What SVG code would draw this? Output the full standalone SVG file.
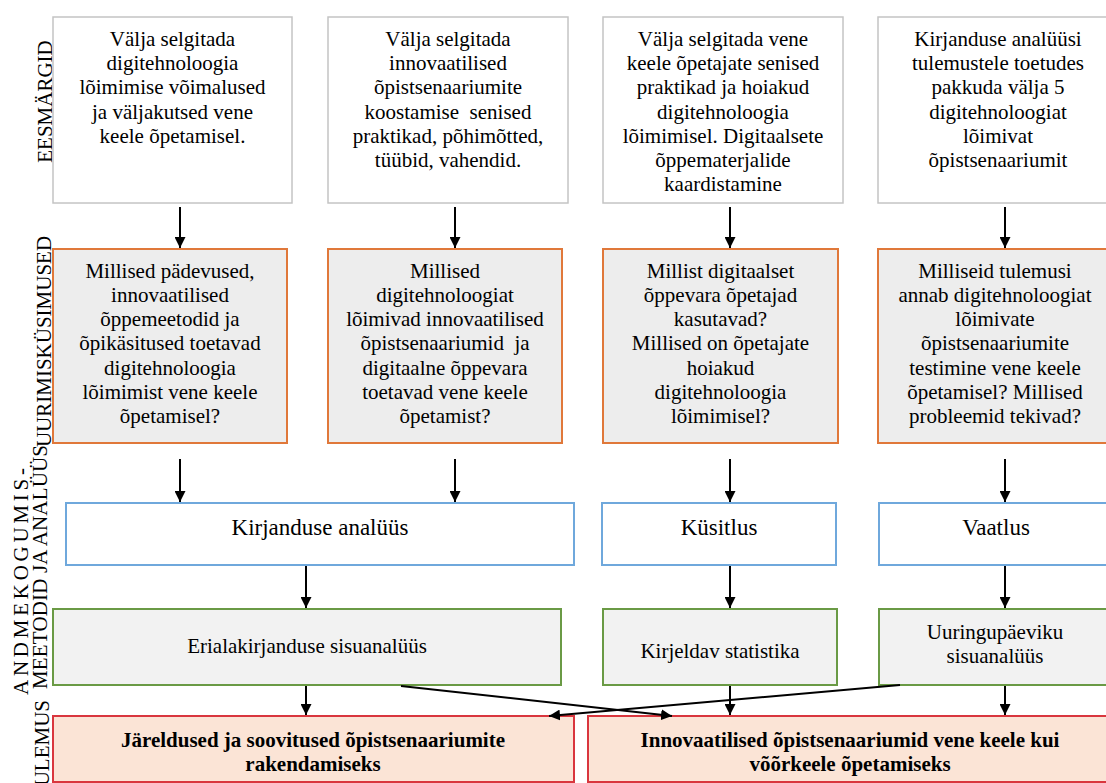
<svg xmlns="http://www.w3.org/2000/svg" width="1106" height="783" viewBox="0 0 1106 783">
<defs>
<marker id="ah" viewBox="0 0 10 10" refX="10" refY="5" markerWidth="5.5" markerHeight="5.5" orient="auto" markerUnits="strokeWidth">
<path d="M0,0 L10,5 L0,10 Z" fill="#000"/>
</marker>
<style>
text{font-family:"Liberation Serif","Times New Roman",serif;fill:#000}
.t{font-size:21px;text-anchor:middle}
.side{font-size:21px}
.b1{fill:#fff;stroke:#c4c4c4;stroke-width:1.5}
.b2{fill:#ededed;stroke:#e0783a;stroke-width:2}
.b3{fill:#fff;stroke:#6fa8dc;stroke-width:2}
.b4{fill:#f2f2f2;stroke:#6a9a45;stroke-width:2}
.b5{fill:#fbe4d6;stroke:#d9363e;stroke-width:2}
.m{font-size:23px;text-anchor:middle}
.g{font-size:21px;text-anchor:middle}
.r{font-size:21px;font-weight:bold;text-anchor:middle}
.c{stroke:#000;stroke-width:2;fill:none;marker-end:url(#ah)}
</style>
</defs>
<rect width="1106" height="783" fill="#fff"/>

<g id="labels">
<text class="side" text-anchor="middle" transform="translate(52,101.5) rotate(-90)">EESMÄRGID</text>
<text class="side" text-anchor="middle" transform="translate(51,341.5) rotate(-90)">UURIMISKÜSIMUSED</text>
<text class="side" transform="translate(28,695) rotate(-90)" textLength="227" lengthAdjust="spacing">ANDMEKOGUMIS-</text>
<text class="side" transform="translate(47,689) rotate(-90)" textLength="244" lengthAdjust="spacing">MEETODID JA ANALÜÜS</text>
<text class="side" text-anchor="end" transform="translate(49,700) rotate(-90)">TULEMUS</text>
</g>

<g id="goal1"><rect class="b1" x="53" y="17" width="239" height="186"/>
<text class="t" x="172.5" y="46">Välja selgitada<tspan x="172.5" dy="24.2">digitehnoloogia</tspan><tspan x="172.5" dy="24.2">lõimimise võimalused</tspan><tspan x="172.5" dy="24.2">ja väljakutsed vene</tspan><tspan x="172.5" dy="24.2">keele õpetamisel.</tspan></text></g>

<g id="goal2"><rect class="b1" x="328" y="17" width="240" height="186"/>
<text class="t" x="448" y="46">Välja selgitada<tspan x="448" dy="24.2">innovaatilised</tspan><tspan x="448" dy="24.2">õpistsenaariumite</tspan><tspan x="448" dy="24.2" xml:space="preserve">koostamise  senised</tspan><tspan x="448" dy="24.2">praktikad, põhimõtted,</tspan><tspan x="448" dy="24.2">tüübid, vahendid.</tspan></text></g>

<g id="goal3"><rect class="b1" x="603" y="17" width="240" height="186"/>
<text class="t" x="723" y="46">Välja selgitada vene<tspan x="723" dy="24.2">keele õpetajate senised</tspan><tspan x="723" dy="24.2">praktikad ja hoiakud</tspan><tspan x="723" dy="24.2">digitehnoloogia</tspan><tspan x="723" dy="24.2">lõimimisel. Digitaalsete</tspan><tspan x="723" dy="24.2">õppematerjalide</tspan><tspan x="723" dy="24.2">kaardistamine</tspan></text></g>

<g id="goal4"><rect class="b1" x="878" y="17" width="240" height="186"/>
<text class="t" x="998" y="46">Kirjanduse analüüsi<tspan x="998" dy="24.2">tulemustele toetudes</tspan><tspan x="998" dy="24.2">pakkuda välja 5</tspan><tspan x="998" dy="24.2">digitehnoloogiat</tspan><tspan x="998" dy="24.2">lõimivat</tspan><tspan x="998" dy="24.2">õpistsenaariumit</tspan></text></g>

<g id="q1"><rect class="b2" x="53" y="249" width="234" height="194"/>
<text class="t" x="170" y="277.5">Millised pädevused,<tspan x="170" dy="24.25">innovaatilised</tspan><tspan x="170" dy="24.25">õppemeetodid ja</tspan><tspan x="170" dy="24.25">õpikäsitused toetavad</tspan><tspan x="170" dy="24.25">digitehnoloogia</tspan><tspan x="170" dy="24.25">lõimimist vene keele</tspan><tspan x="170" dy="24.25">õpetamisel?</tspan></text></g>

<g id="q2"><rect class="b2" x="328" y="249" width="234" height="194"/>
<text class="t" x="445" y="277.5">Millised<tspan x="445" dy="24.25">digitehnoloogiat</tspan><tspan x="445" dy="24.25">lõimivad innovaatilised</tspan><tspan x="445" dy="24.25" xml:space="preserve">õpistsenaariumid  ja</tspan><tspan x="445" dy="24.25">digitaalne õppevara</tspan><tspan x="445" dy="24.25">toetavad vene keele</tspan><tspan x="445" dy="24.25">õpetamist?</tspan></text></g>

<g id="q3"><rect class="b2" x="603" y="249" width="235" height="194"/>
<text class="t" x="720.5" y="277.5">Millist digitaalset<tspan x="720.5" dy="24.25">õppevara õpetajad</tspan><tspan x="720.5" dy="24.25">kasutavad?</tspan><tspan x="720.5" dy="24.25">Millised on õpetajate</tspan><tspan x="720.5" dy="24.25">hoiakud</tspan><tspan x="720.5" dy="24.25">digitehnoloogia</tspan><tspan x="720.5" dy="24.25">lõimimisel?</tspan></text></g>

<g id="q4"><rect class="b2" x="878" y="249" width="234" height="194"/>
<text class="t" x="995" y="277.5">Milliseid tulemusi<tspan x="995" dy="24.25">annab digitehnoloogiat</tspan><tspan x="995" dy="24.25">lõimivate</tspan><tspan x="995" dy="24.25">õpistsenaariumite</tspan><tspan x="995" dy="24.25">testimine vene keele</tspan><tspan x="995" dy="24.25">õpetamisel? Millised</tspan><tspan x="995" dy="24.25">probleemid tekivad?</tspan></text></g>

<g id="m1"><rect class="b3" x="66" y="503" width="508" height="62"/>
<text class="m" x="320" y="535">Kirjanduse analüüs</text></g>
<g id="m2"><rect class="b3" x="602" y="503" width="234" height="62"/>
<text class="m" x="719" y="535">Küsitlus</text></g>
<g id="m3"><rect class="b3" x="879" y="503" width="234" height="62"/>
<text class="m" x="996" y="535">Vaatlus</text></g>

<g id="a1"><rect class="b4" x="53" y="609" width="508" height="76"/>
<text class="g" x="307" y="653">Erialakirjanduse sisuanalüüs</text></g>
<g id="a2"><rect class="b4" x="603" y="609" width="234" height="76"/>
<text class="g" x="720" y="658">Kirjeldav statistika</text></g>
<g id="a3"><rect class="b4" x="879" y="609" width="234" height="76"/>
<text class="g" x="995" y="639">Uuringupäeviku<tspan x="995" dy="23.5">sisuanalüüs</tspan></text></g>

<g id="r1"><rect class="b5" x="53" y="716" width="521" height="66"/>
<text class="r" x="313" y="747">Järeldused ja soovitused õpistsenaariumite<tspan x="313" dy="23.5">rakendamiseks</tspan></text></g>
<g id="r2"><rect class="b5" x="588" y="716" width="525" height="66"/>
<text class="r" x="850" y="747">Innovaatilised õpistsenaariumid vene keele kui<tspan x="850" dy="23.5">võõrkeele õpetamiseks</tspan></text></g>

<g id="connectors">
<line class="c" x1="180" y1="207" x2="180" y2="248"/>
<line class="c" x1="455" y1="207" x2="455" y2="248"/>
<line class="c" x1="730" y1="207" x2="730" y2="248"/>
<line class="c" x1="1005" y1="207" x2="1005" y2="248"/>
<line class="c" x1="180" y1="459" x2="180" y2="502"/>
<line class="c" x1="455" y1="459" x2="455" y2="502"/>
<line class="c" x1="730" y1="459" x2="730" y2="502"/>
<line class="c" x1="1005" y1="459" x2="1005" y2="502"/>
<line class="c" x1="306" y1="566" x2="306" y2="608"/>
<line class="c" x1="730" y1="566" x2="730" y2="608"/>
<line class="c" x1="1005" y1="566" x2="1005" y2="608"/>
<line class="c" x1="306" y1="686" x2="306" y2="715"/>
<line class="c" x1="730" y1="686" x2="730" y2="715"/>
<line class="c" x1="1005" y1="686" x2="1005" y2="715"/>
<line class="c" x1="401" y1="686" x2="672" y2="716"/>
<line class="c" x1="900" y1="685" x2="549" y2="716"/>
</g>
</svg>
